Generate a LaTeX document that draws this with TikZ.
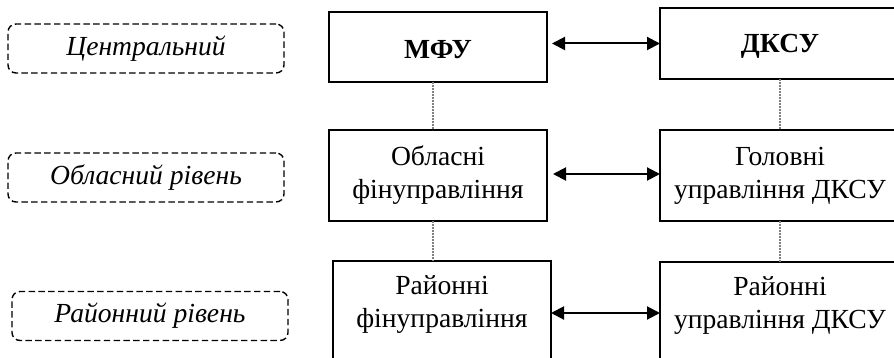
\documentclass[tikz,border=0pt]{standalone}
\usepackage{fontspec}
\setmainfont{Liberation Serif}
\usepackage{tikz}
\usetikzlibrary{arrows.meta}

\begin{document}
\begin{tikzpicture}[x=0.5pt, y=-0.5pt,
		every node/.style={font=\fontsize{13.8pt}{16.5pt}\selectfont, align=center, inner sep=0pt, outer sep=0pt},
		level/.style={draw, dash pattern=on 3.2pt off 1.7pt, line width=0.7pt, rounded corners=4pt, minimum width=138pt, minimum height=24.5pt, font=\fontsize{13.8pt}{16.5pt}\selectfont\itshape},
		unit/.style={draw, line width=0.75pt, minimum width=109pt},
		head/.style={font=\fontsize{13.8pt}{16.5pt}\selectfont\bfseries, text depth=0pt},
		link/.style={line width=1pt, {Triangle[length=6.5pt, width=6.5pt]}-{Triangle[length=6.5pt, width=6.5pt]}},
		sub/.style={draw=gray, dash pattern=on 0.9pt off 0.6pt, line width=0.9pt}]
		\clip (0, 0) rectangle (894, 358);
		% levels
		\node[level] (lev1) at (146, 48.5) {Центральний};
		\node[level] (lev2) at (146, 177.5) {Обласний рівень};
		\node[level] (lev3) at (150, 316) {Районний рівень};
		% finance side
		\node[unit, head, text height=11.7pt, minimum height=35pt] (mfu) at (438, 47) {МФУ};
		\node[unit, minimum height=45.5pt] (ofu) at (438, 175.5) {Обласні\\фінуправління};
		\node[unit, minimum height=52pt, text depth=11pt] (rfu) at (442, 313) {Районні\\фінуправління};
		% treasury side
		\node[unit, head, text height=8.7pt, minimum width=120pt, minimum height=35.5pt] (dksu) at (780, 43.5) {ДКСУ};
		\node[unit, minimum width=120pt, minimum height=45.5pt] (gudksu) at (780, 175.5) {Головні\\управління ДКСУ};
		\node[unit, minimum width=120pt, minimum height=52pt, text depth=11pt] (rudksu) at (780, 314) {Районні\\управління ДКСУ};
		% links
		\draw[link, shorten <=2.5pt] (dksu.west -| mfu.east) -- (dksu.west);
		\draw[link, shorten <=3pt] (ofu.east |- 0, 174) -- (gudksu.west |- 0, 174);
		\draw[link] (rfu.east) -- (rfu.east -| rudksu.west);
		% subordination
		\draw[sub] ([xshift=-2.5pt]mfu.south) -- ([xshift=-2.5pt]mfu.south |- ofu.north);
		\draw[sub] ([xshift=-2.5pt]ofu.south) -- ([xshift=-2.5pt]ofu.south |- rfu.north);
		\draw[sub] (dksu.south) -- (dksu.south |- gudksu.north);
		\draw[sub] (gudksu.south) -- (gudksu.south |- rudksu.north);
	\end{tikzpicture}
\end{document}
